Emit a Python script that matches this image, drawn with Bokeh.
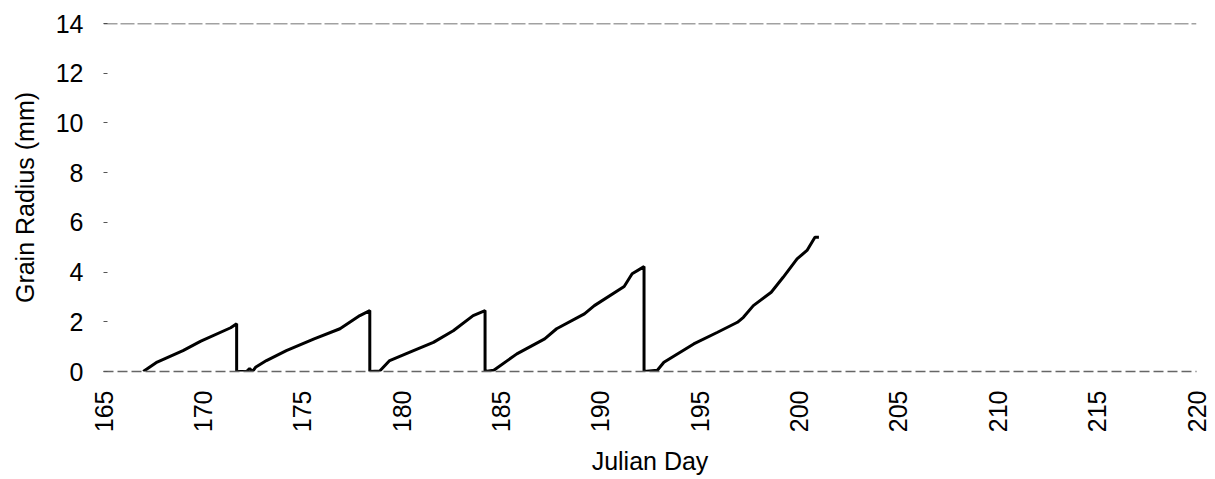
import math
from bokeh.plotting import figure
from bokeh.models import FixedTicker, Range1d, Span
from bokeh.embed import file_html
from bokeh.resources import INLINE

# Julian day and grain radius (mm)
days = [167.0, 167.7, 169.0, 169.9, 171.4, 171.7, 171.7, 172.2, 172.35, 172.5,
        172.65, 173.2, 174.2, 175.6, 176.9, 177.9, 178.4, 178.4, 178.9,
        179.4, 180.6, 181.6, 182.6, 183.6, 184.2, 184.2, 184.64,
        185.8, 187.2, 187.8, 189.2, 189.7, 191.2, 191.6, 192.2, 192.2, 192.87,
        193.2, 194.7, 195.9, 196.9, 197.2, 197.7, 198.6, 199.2, 199.9, 200.4, 200.8, 201.0]
radius = [0.0, 0.38, 0.84, 1.22, 1.76, 1.92, 0.0, 0.0, 0.12, 0.0,
          0.17, 0.44, 0.84, 1.31, 1.72, 2.25, 2.45, 0.0, 0.02,
          0.44, 0.84, 1.17, 1.64, 2.25, 2.45, 0.0, 0.05,
          0.71, 1.31, 1.72, 2.32, 2.65, 3.42, 3.93, 4.22, 0.0, 0.05,
          0.37, 1.11, 1.58, 1.98, 2.18, 2.65, 3.19, 3.79, 4.53, 4.87, 5.40, 5.40]

x_ticks = [165, 170, 175, 180, 185, 190, 195, 200, 205, 210, 215, 220]
y_ticks = [0, 2, 4, 6, 8, 10, 12, 14]

FONT = "Liberation Sans"

p = figure(width=1215, height=479, output_backend="svg", toolbar_location=None,
           x_range=Range1d(165, 220), y_range=Range1d(0, 14),
           min_border_left=103, min_border_right=19, min_border_top=23,
           min_border_bottom=108)
p.outline_line_color = None
p.xgrid.visible = False
p.ygrid.visible = False

p.add_layout(Span(location=14, dimension="width", line_color="#444444",
                  line_width=1.5, line_dash="14 3"))

p.line(days, radius, line_color="black", line_width=3)

xa = p.xaxis[0]
xa.ticker = FixedTicker(ticks=x_ticks)
xa.major_label_orientation = math.pi / 2
xa.major_tick_out = 0
xa.major_tick_in = 0
xa.minor_tick_out = 0
xa.minor_tick_in = 0
xa.axis_line_color = "#666666"
xa.axis_line_dash = "10 4"
xa.axis_line_width = 1.5
xa.major_label_standoff = 19
xa.major_label_text_font = FONT
xa.major_label_text_font_size = "25px"
xa.major_label_text_color = "black"
xa.axis_label = "Julian Day"
xa.axis_label_text_font = FONT
xa.axis_label_text_font_size = "25px"
xa.axis_label_text_font_style = "normal"
xa.axis_label_text_color = "black"
xa.axis_label_standoff = 12

ya = p.yaxis[0]
ya.ticker = FixedTicker(ticks=y_ticks)
ya.axis_line_color = None
ya.major_tick_out = 0
ya.major_tick_in = 4
ya.major_tick_line_color = "#555555"
ya.minor_tick_out = 0
ya.minor_tick_in = 0
ya.major_label_standoff = 20
ya.major_label_text_font = FONT
ya.major_label_text_font_size = "25px"
ya.major_label_text_color = "black"
ya.axis_label = "Grain Radius (mm)"
ya.axis_label_text_font = FONT
ya.axis_label_text_font_size = "25px"
ya.axis_label_text_font_style = "normal"
ya.axis_label_text_color = "black"
ya.axis_label_standoff = 14

open("out.html", "w").write(file_html(p, INLINE))
